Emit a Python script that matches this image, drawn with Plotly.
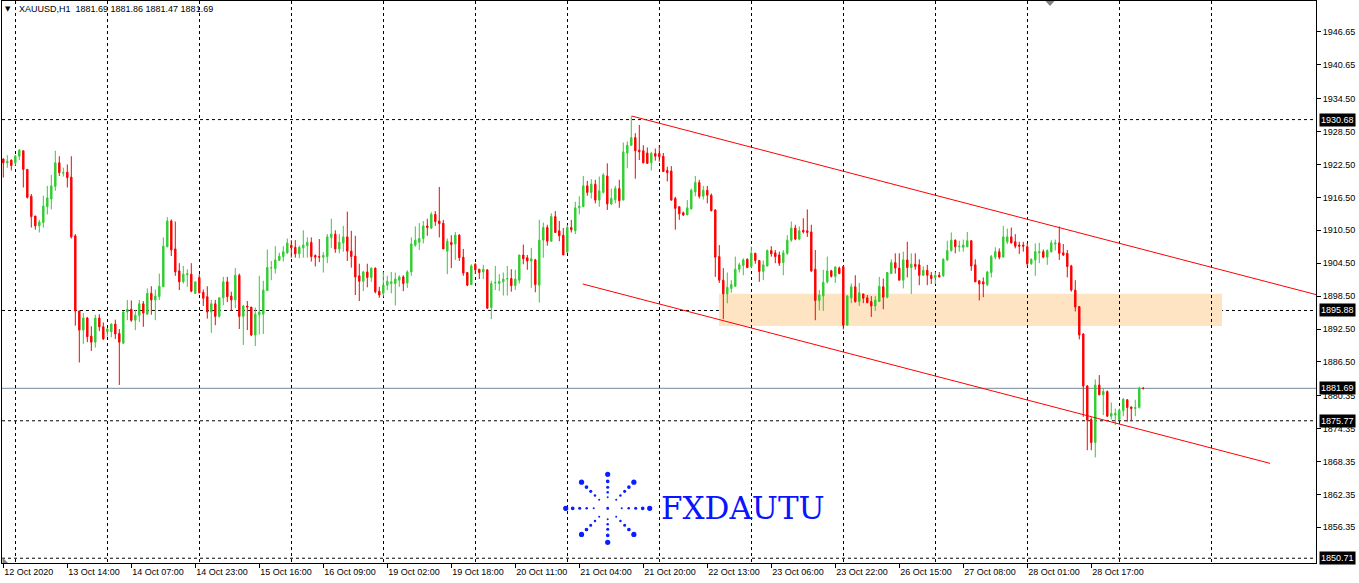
import plotly.graph_objects as go
import math

# ---------------- data ----------------
tick_bars = [0, 16, 32, 48, 64, 80, 96, 112, 128, 144, 160, 176, 192, 208, 224, 240, 256, 272]
tick_labels = ["12 Oct 2020", "13 Oct 14:00", "14 Oct 07:00", "14 Oct 23:00", "15 Oct 16:00",
               "16 Oct 09:00", "19 Oct 02:00", "19 Oct 18:00", "20 Oct 11:00", "21 Oct 04:00",
               "21 Oct 20:00", "22 Oct 13:00", "23 Oct 06:00", "23 Oct 22:00", "26 Oct 15:00",
               "27 Oct 08:00", "28 Oct 01:00", "28 Oct 17:00"]
price_ticks = [1946.65, 1940.65, 1934.50, 1928.50, 1922.50, 1916.50, 1910.50, 1904.50, 1898.50,
               1892.50, 1886.50, 1880.35, 1874.35, 1868.35, 1862.35, 1856.35]

opens = [1923.5,1922.8,1923.3,1922.8,1924.0,1925.0,1921.6,1916.7,1913.1,1911.3,
 1911.9,1914.8,1916.2,1918.5,1922.8,1920.9,1921.1,1920.2,1909.5,1895.8,
 1892.3,1894.5,1891.2,1890.1,1894.5,1892.9,1892.0,1892.0,1893.4,1891.7,
 1889.9,1895.6,1896.1,1894.1,1895.0,1897.1,1895.2,1899.0,1897.8,1898.4,
 1900.2,1907.5,1912.2,1907.1,1903.1,1901.1,1902.4,1902.5,1899.0,1901.9,
 1899.2,1898.4,1895.6,1897.1,1894.8,1898.2,1901.1,1898.5,1897.8,1902.3,
 1894.8,1896.7,1896.5,1891.4,1895.1,1895.2,1899.5,1903.6,1903.5,1905.0,
 1905.7,1906.4,1907.8,1907.4,1906.2,1907.3,1907.7,1908.3,1905.9,1905.7,
 1905.6,1905.7,1909.2,1909.8,1907.1,1908.2,1909.3,1906.7,1905.8,1902.2,
 1901.2,1902.9,1901.9,1903.6,1899.4,1899.0,1900.5,1900.8,1900.8,1901.4,
 1902.0,1900.9,1902.9,1907.8,1908.3,1909.0,1911.3,1910.9,1913.4,1912.2,
 1911.8,1906.7,1908.3,1908.0,1909.6,1905.6,1902.8,1900.6,1904.3,1903.4,
 1902.9,1903.3,1896.4,1900.9,1900.8,1901.1,1901.6,1901.7,1900.4,1901.4,
 1906.0,1905.5,1904.9,1905.1,1900.5,1908.7,1911.0,1908.5,1913.0,1910.4,
 1909.6,1906.5,1911.0,1910.4,1914.6,1914.8,1918.6,1917.4,1918.9,1916.0,
 1917.4,1920.4,1915.3,1916.1,1918.1,1916.0,1924.6,1926.0,1927.4,1925.1,
 1925.0,1924.6,1922.8,1924.5,1924.5,1924.0,1921.4,1921.3,1916.3,1914.8,
 1913.7,1913.3,1914.4,1917.5,1919.2,1916.7,1917.8,1916.9,1914.2,1905.7,
 1901.4,1898.9,1899.9,1900.3,1903.4,1904.1,1905.2,1903.9,1906.3,1905.0,
 1903.0,1904.0,1906.8,1906.4,1906.0,1904.6,1906.3,1908.7,1910.9,1908.9,
 1910.5,1910.4,1910.2,1903.4,1897.7,1898.5,1901.1,1903.1,1902.1,1903.6,
 1903.9,1893.2,1898.2,1900.2,1897.5,1898.9,1898.2,1897.5,1896.7,1897.5,
 1900.2,1898.3,1902.6,1904.6,1903.6,1901.4,1905.1,1903.7,1904.3,1904.2,
 1902.3,1903.2,1902.3,1901.9,1902.3,1902.2,1905.1,1906.8,1908.7,1907.5,
 1907.4,1907.5,1908.6,1904.2,1901.3,1901.1,1900.6,1902.8,1905.6,1906.6,
 1905.6,1908.4,1909.3,1908.4,1907.8,1907.8,1907.5,1904.4,1905.1,1906.4,
 1906.6,1905.6,1906.6,1908.0,1908.2,1906.4,1906.3,1904.0,1899.6,1896.6,
 1891.6,1882.1,1876.0,1871.8,1882.3,1880.5,1881.1,1876.6,1876.8,1876.0,
 1877.6,1879.6,1878.3,1878.0,1878.2,1881.69]
highs = [1923.6,1924.2,1923.4,1924.2,1925.3,1925.0,1921.6,1917.1,1913.1,1912.4,
 1916.8,1918.6,1920.6,1925.0,1924.0,1921.9,1922.5,1924.0,1909.8,1895.8,
 1895.4,1894.7,1893.0,1895.1,1895.2,1893.7,1892.7,1893.5,1894.2,1892.5,
 1895.8,1897.8,1897.7,1896.0,1897.8,1897.6,1899.9,1900.3,1899.7,1902.6,
 1909.2,1912.9,1912.5,1912.1,1904.5,1904.0,1903.4,1904.5,1901.1,1902.5,
 1899.7,1900.3,1897.8,1897.8,1898.2,1902.0,1902.0,1899.3,1903.6,1902.6,
 1896.9,1897.6,1896.5,1896.4,1902.2,1901.3,1907.0,1904.9,1907.6,1906.4,
 1907.6,1909.0,1908.7,1908.7,1907.7,1910.5,1909.2,1909.2,1906.1,1908.9,
 1906.5,1909.8,1912.6,1910.5,1909.8,1911.3,1913.9,1910.4,1909.5,1904.4,
 1903.1,1904.4,1903.7,1903.7,1900.2,1902.9,1902.2,1902.9,1902.8,1902.3,
 1902.3,1903.2,1909.2,1911.2,1911.8,1912.2,1912.6,1913.8,1914.0,1918.4,
 1912.4,1909.0,1909.6,1910.2,1909.8,1907.1,1902.9,1904.3,1904.5,1903.4,
 1904.2,1903.3,1901.3,1904.0,1902.5,1902.8,1904.0,1903.4,1903.3,1906.0,
 1907.9,1906.0,1907.3,1905.3,1912.4,1911.9,1911.5,1913.6,1914.0,1912.2,
 1910.9,1911.5,1912.4,1915.7,1916.7,1920.4,1919.5,1919.8,1919.7,1920.3,
 1920.9,1922.7,1918.1,1918.6,1919.7,1926.5,1926.7,1931.3,1928.2,1929.7,
 1926.0,1925.6,1924.8,1925.4,1926.0,1924.6,1922.1,1922.2,1916.6,1914.8,
 1913.9,1916.0,1918.1,1920.4,1919.7,1918.6,1918.6,1917.2,1914.3,1907.8,
 1903.6,1902.8,1901.4,1905.7,1904.6,1905.4,1905.4,1907.5,1906.4,1905.0,
 1905.0,1907.0,1907.6,1906.9,1906.6,1906.9,1909.6,1912.1,1911.5,1911.2,
 1912.7,1914.3,1911.5,1906.9,1899.6,1903.3,1905.7,1903.3,1903.9,1903.9,
 1903.9,1898.7,1900.8,1902.3,1900.9,1898.9,1898.7,1898.5,1898.5,1902.0,
 1901.7,1902.9,1905.2,1906.3,1906.3,1906.6,1908.4,1906.3,1906.3,1905.2,
 1903.9,1904.2,1902.9,1902.9,1902.9,1905.4,1908.6,1910.1,1908.8,1908.6,
 1908.8,1910.2,1908.7,1905.2,1901.4,1901.9,1903.1,1906.0,1907.4,1907.2,
 1911.3,1910.8,1911.0,1909.8,1908.4,1908.4,1908.2,1905.4,1908.1,1908.2,
 1907.0,1907.0,1908.7,1908.8,1911.2,1908.0,1906.9,1904.2,1901.4,1896.7,
 1891.7,1882.3,1876.4,1883.3,1884.1,1881.7,1881.3,1879.1,1878.0,1878.0,
 1879.9,1879.7,1878.3,1879.6,1882.0,1881.86]
lows = [1920.1,1921.9,1921.4,1922.3,1923.3,1918.3,1916.3,1911.0,1910.6,1910.1,
 1911.0,1913.4,1914.3,1917.7,1920.4,1920.3,1918.3,1909.0,1893.1,1886.4,
 1889.8,1890.1,1888.5,1889.1,1892.1,1890.5,1891.1,1891.0,1890.7,1882.3,
 1889.8,1894.1,1893.8,1892.3,1893.8,1892.9,1895.2,1895.1,1894.1,1897.8,
 1900.2,1907.4,1905.8,1902.2,1899.6,1900.8,1900.2,1899.2,1898.9,1899.0,
 1896.7,1894.4,1891.8,1893.2,1894.6,1896.8,1897.4,1895.8,1896.3,1892.5,
 1889.6,1892.3,1891.2,1889.4,1891.5,1891.6,1899.5,1901.4,1902.6,1904.9,
 1904.8,1906.2,1905.5,1905.5,1905.4,1905.5,1905.5,1904.8,1903.9,1904.7,
 1902.8,1904.5,1907.3,1906.4,1906.3,1906.6,1904.9,1903.7,1898.7,1897.6,
 1899.4,1900.1,1901.1,1899.0,1898.2,1898.4,1899.6,1899.0,1896.8,1900.2,
 1899.4,1900.0,1902.2,1907.5,1906.9,1908.1,1909.5,1910.7,1911.3,1909.2,
 1907.1,1902.5,1903.6,1905.1,1904.9,1902.2,1900.3,1900.5,1902.5,1901.6,
 1901.6,1896.2,1894.3,1899.6,1899.4,1898.6,1898.6,1899.3,1899.6,1900.8,
 1904.3,1903.3,1900.0,1899.2,1897.3,1905.5,1907.7,1908.5,1910.1,1908.5,
 1906.0,1906.5,1910.1,1909.8,1913.4,1914.8,1916.8,1916.3,1915.4,1914.8,
 1917.2,1914.2,1915.1,1915.4,1914.6,1916.0,1921.8,1925.9,1919.9,1923.3,
 1922.7,1922.6,1921.4,1923.2,1923.0,1921.2,1919.4,1915.9,1910.6,1912.4,
 1913.1,1913.3,1914.3,1916.7,1916.3,1916.1,1915.4,1913.9,1902.0,1900.9,
 1894.3,1897.2,1899.1,1900.2,1902.8,1902.3,1903.6,1903.6,1904.4,1901.1,
 1901.4,1903.9,1905.7,1904.5,1904.0,1902.3,1906.0,1908.4,1908.7,1908.7,
 1909.9,1909.3,1902.9,1894.1,1895.9,1895.8,1900.8,1901.9,1900.9,1902.5,
 1892.4,1893.2,1897.2,1897.3,1896.7,1897.2,1897.2,1894.7,1895.8,1897.5,
 1896.1,1898.1,1902.6,1902.6,1901.4,1899.9,1901.9,1898.9,1903.3,1900.5,
 1902.2,1900.5,1900.7,1900.7,1901.9,1902.0,1904.9,1906.6,1906.3,1906.6,
 1906.6,1907.4,1903.1,1901.1,1897.7,1898.3,1900.3,1901.9,1905.2,1905.2,
 1905.6,1908.0,1908.1,1907.2,1906.2,1906.6,1903.9,1904.2,1902.2,1904.5,
 1905.4,1904.2,1906.4,1906.8,1905.1,1905.8,1901.9,1899.3,1895.7,1890.6,
 1876.5,1870.4,1870.4,1869.1,1880.5,1876.8,1876.5,1876.0,1875.0,1875.9,
 1876.6,1875.6,1875.8,1876.6,1878.0,1881.47]
closes = [1922.8,1923.1,1922.3,1924.0,1925.1,1921.6,1916.5,1913.0,1911.3,1912.0,
 1914.9,1916.4,1918.6,1922.8,1921.0,1921.0,1920.1,1909.3,1895.8,1892.3,
 1894.5,1891.1,1890.1,1894.5,1892.9,1890.7,1892.5,1893.4,1891.6,1890.1,
 1895.6,1896.1,1894.1,1895.0,1897.1,1895.4,1899.0,1897.8,1898.5,1900.3,
 1907.6,1912.2,1906.9,1902.9,1901.1,1902.5,1902.6,1899.4,1901.1,1899.1,
 1898.1,1895.6,1897.1,1894.8,1898.2,1901.1,1898.4,1897.8,1902.3,1894.8,
 1896.7,1896.5,1891.4,1895.2,1895.6,1899.6,1903.7,1903.7,1905.1,1905.8,
 1906.6,1908.2,1907.3,1906.2,1907.4,1907.8,1908.3,1905.7,1905.6,1905.6,
 1905.9,1909.3,1909.8,1907.1,1908.3,1909.3,1906.7,1905.7,1902.0,1901.2,
 1902.9,1901.9,1903.6,1899.3,1898.7,1900.5,1901.2,1901.1,1901.6,1902.0,
 1900.8,1902.9,1908.0,1908.7,1909.0,1911.3,1911.0,1913.4,1912.1,1911.7,
 1907.1,1908.5,1907.9,1909.6,1905.5,1902.7,1900.5,1904.0,1903.3,1902.8,
 1903.4,1896.3,1900.8,1901.0,1901.2,1901.6,1901.7,1900.4,1901.6,1906.0,
 1905.3,1904.9,1905.3,1900.6,1908.7,1911.0,1908.5,1913.0,1910.1,1909.5,
 1906.0,1911.0,1910.6,1914.6,1914.9,1918.6,1917.4,1918.9,1916.0,1917.7,
 1920.6,1915.3,1916.3,1918.1,1915.9,1924.8,1926.0,1927.4,1925.0,1924.8,
 1922.8,1922.7,1924.5,1924.0,1923.9,1921.2,1921.0,1916.0,1914.5,1913.5,
 1913.3,1914.6,1917.8,1919.2,1916.7,1917.8,1916.9,1914.1,1905.6,1901.4,
 1898.9,1900.1,1900.6,1903.4,1904.2,1905.1,1903.7,1906.3,1905.0,1903.0,
 1904.2,1906.8,1906.2,1905.7,1904.5,1906.4,1908.7,1910.9,1908.9,1910.4,
 1910.2,1910.1,1903.1,1897.7,1898.7,1901.0,1903.1,1902.1,1903.8,1902.6,
 1893.2,1898.5,1900.2,1897.5,1899.1,1898.1,1897.3,1896.7,1897.8,1900.3,
 1898.3,1902.8,1904.6,1903.6,1901.4,1905.1,1903.7,1904.3,1903.9,1902.3,
 1903.2,1902.3,1901.7,1902.3,1902.0,1905.2,1906.8,1908.7,1907.5,1907.6,
 1907.8,1908.6,1904.0,1901.1,1900.7,1900.7,1902.9,1905.7,1906.6,1905.6,
 1909.3,1909.3,1908.2,1907.6,1907.6,1907.6,1904.4,1905.2,1906.6,1906.6,
 1905.6,1906.8,1908.2,1908.2,1906.3,1906.0,1903.9,1899.6,1896.5,1891.4,
 1882.1,1875.9,1871.8,1882.3,1880.5,1881.1,1876.6,1877.1,1877.1,1877.7,
 1879.7,1878.2,1878.0,1878.2,1881.7,1881.69]

dashed_levels = [1930.68, 1895.88, 1875.77, 1850.71]
bid_level = 1881.69
price_labels = [1930.68, 1895.88, 1881.69, 1875.77, 1850.71]
channel_upper = dict(b0=157.1, p0=1931.33, b1=328.2, p1=1898.77)
channel_lower = dict(b0=144.85, p0=1900.71, b1=316.7, p1=1868.0)
zone = dict(b0=178.9, b1=304.7, p0=1893.07, p1=1898.94)
grid_bars = [3.1 + 23 * k for k in range(14)]

# -------------- layout geometry --------------
W, H = 1359, 583
ML, MR, MT, MB = 2, 43, 1, 20
PW, PH = W - ML - MR, H - MT - MB


def px_x(x):
    return (x - ML) / PW


def px_y(y):
    return (H - MB - y) / PH


N = len(opens)
bars = list(range(N))
highs = [max(h, o, c) for h, o, c in zip(highs, opens, closes)]
lows = [min(l, o, c) for l, o, c in zip(lows, opens, closes)]

fig = go.Figure()
fig.add_trace(go.Candlestick(
    x=bars, open=opens, high=highs, low=lows, close=closes,
    increasing=dict(line=dict(color='#32CD32', width=1), fillcolor='#32CD32'),
    decreasing=dict(line=dict(color='#FF0000', width=1), fillcolor='#FF0000'),
    whiskerwidth=0, hoverinfo='skip', showlegend=False))

shapes = []
shapes.append(dict(type='rect', xref='x', yref='y', x0=zone['b0'], x1=zone['b1'],
                   y0=zone['p0'], y1=zone['p1'], fillcolor='#FFE4C4',
                   line=dict(width=0), layer='below'))
for lv in dashed_levels:
    shapes.append(dict(type='line', xref='paper', yref='y', x0=0, x1=1, y0=lv, y1=lv,
                       line=dict(color='black', width=1, dash='3px,3px'), layer='below'))
shapes.append(dict(type='line', xref='paper', yref='y', x0=0, x1=1, y0=bid_level, y1=bid_level,
                   line=dict(color='#778899', width=1), layer='below'))
for ch in (channel_upper, channel_lower):
    shapes.append(dict(type='line', xref='x', yref='y', x0=ch['b0'], y0=ch['p0'],
                       x1=ch['b1'], y1=ch['p1'], line=dict(color='#FF0000', width=1),
                       layer='above'))
shapes.append(dict(type='path', xref='paper', yref='paper',
                   path=f"M {px_x(1045.5)},{px_y(1)} L {px_x(1054.5)},{px_y(1)} L {px_x(1050)},{px_y(6)} Z",
                   fillcolor='#808080', line=dict(width=0), layer='above'))
shapes.append(dict(type='path', xref='paper', yref='paper',
                   path=f"M {px_x(2.5)},{px_y(557.5)} L {px_x(2.5)},{px_y(563)} L {px_x(8)},{px_y(563)} Z",
                   fillcolor='#808080', line=dict(width=0), layer='above'))

# watermark logo: dotted starburst
cx, cy = 607.7, 508.3
ray_angles = [0, 45, 90, 135, 180, 225, 270, 315]
ray_radii = {0: [14, 21, 28, 35, 42], 90: [11, 16, 21, 27, 34], 45: [12, 18, 24, 30, 37]}
dot_sizes = [2.0, 2.5, 3.1, 3.7, 5.2]
for a in ray_angles:
    key = 0 if a % 180 == 0 else (90 if a % 180 == 90 else 45)
    for r, d in zip(ray_radii[key], dot_sizes):
        x = cx + r * math.cos(math.radians(a))
        y = cy - r * math.sin(math.radians(a))
        shapes.append(dict(type='circle', xref='paper', yref='paper',
                           x0=px_x(x - d / 2), x1=px_x(x + d / 2),
                           y0=px_y(y + d / 2), y1=px_y(y - d / 2),
                           fillcolor='#0A1EFF', line=dict(width=0), layer='above'))
shapes.append(dict(type='circle', xref='paper', yref='paper',
                   x0=px_x(cx - 1.5), x1=px_x(cx + 1.5), y0=px_y(cy + 1.5), y1=px_y(cy - 1.5),
                   fillcolor='#0A1EFF', line=dict(width=0), layer='above'))

annotations = []
for lv in price_labels:
    annotations.append(dict(xref='paper', yref='y', x=1, y=lv, xanchor='left', yanchor='middle',
                            xshift=3, text=f"{lv:.2f}", showarrow=False, bgcolor='black',
                            borderpad=1, font=dict(family='Liberation Sans', size=9, color='white')))
annotations.append(dict(xref='paper', yref='paper', x=px_x(3), y=px_y(8.5), xanchor='left',
                        yanchor='middle', text='▼', showarrow=False,
                        font=dict(family='DejaVu Sans', size=7, color='black')))
annotations.append(dict(xref='paper', yref='paper', x=px_x(17), y=px_y(9), xanchor='left',
                        yanchor='middle', showarrow=False,
                        text='XAUUSD,H1  1881.69 1881.86 1881.47 1881.69',
                        font=dict(family='Liberation Sans', size=9, color='black')))
annotations.append(dict(xref='paper', yref='paper', x=px_x(743), y=px_y(508), xanchor='center',
                        yanchor='middle', text='FXDAUTU', showarrow=False,
                        font=dict(family='DejaVu Serif', size=31, color='#0A14FF')))

fig.update_layout(
    width=W, height=H,
    margin=dict(l=ML, r=MR, t=MT, b=MB, pad=0),
    paper_bgcolor='white', plot_bgcolor='white',
    showlegend=False, boxgap=0.5,
    font=dict(family='Liberation Sans', size=9, color='black'),
    shapes=shapes, annotations=annotations,
    xaxis=dict(range=[-0.33, 328.18], tickmode='array', tickvals=tick_bars, ticktext=tick_labels,
               ticks='outside', ticklen=4, tickcolor='black', tickwidth=1,
               ticklabelposition='outside right',
               showline=True, linecolor='black', linewidth=1, mirror=True,
               showgrid=False, zeroline=False,
               rangeslider=dict(visible=False),
               minor=dict(tickmode='array', tickvals=grid_bars, showgrid=True, gridcolor='black',
                          gridwidth=1, griddash='3px,3px', ticks='')),
    yaxis=dict(range=[1849.84, 1952.30], side='right', tickmode='array', tickvals=price_ticks,
               ticktext=[f"{v:.2f}" for v in price_ticks],
               ticks='outside', ticklen=4, tickcolor='black', tickwidth=1,
               showline=True, linecolor='black', linewidth=1, mirror=True,
               showgrid=False, zeroline=False),
)

fig.write_html("out.html", config={'displayModeBar': False},
               post_script="document.body.style.margin='0px';document.body.style.overflow='hidden';")
